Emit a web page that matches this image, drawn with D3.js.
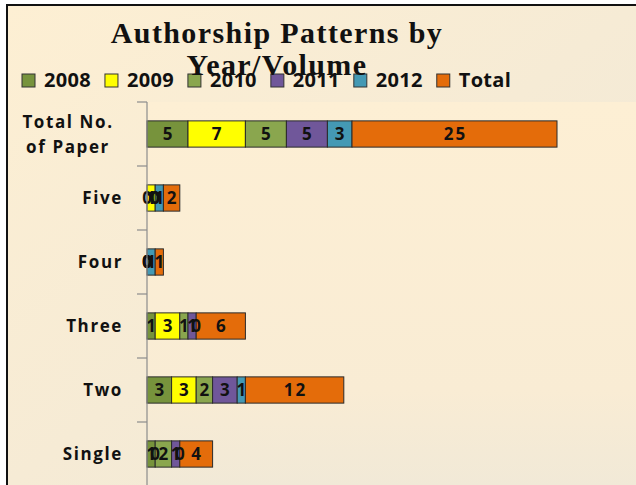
<!DOCTYPE html>
<html><head><meta charset="utf-8">
<script src="https://cdn.jsdelivr.net/npm/d3@7"></script>
<style>
html,body{margin:0;padding:0;background:#fff;}
svg{display:block;}
</style></head>
<body>
<script>
const categories = ["Total No. of Paper", "Five", "Four", "Three", "Two", "Single"];
const categoryLines = [["Total No.", "of Paper"], ["Five"], ["Four"], ["Three"], ["Two"], ["Single"]];
const seriesNames = ["2008", "2009", "2010", "2011", "2012", "Total"];
const v2008  = [5, 0, 0, 1, 3, 1];
const v2009  = [7, 1, 0, 3, 3, 0];
const v2010  = [5, 0, 0, 1, 2, 2];
const v2011  = [5, 0, 0, 1, 3, 1];
const v2012  = [3, 1, 1, 0, 1, 0];
const vTotal = [25, 2, 1, 6, 12, 4];
const seriesValues = [v2008, v2009, v2010, v2011, v2012, vTotal];
const colors = ["#77933c", "#ffff00", "#8aa64e", "#70579a", "#4499b4", "#e46c0a"];
const xMax = 60;
const titleLines = ["Authorship Patterns by", "Year/Volume"];

const W = 636, H = 485;
const svg = d3.select("body").append("svg").attr("width", W).attr("height", H);
const defs = svg.append("defs");
const g1 = defs.append("linearGradient").attr("id","bg").attr("x1","0").attr("y1","0").attr("x2","1").attr("y2","1");
g1.append("stop").attr("offset","0").attr("stop-color","#fdefd3");
g1.append("stop").attr("offset","0.5").attr("stop-color","#f6ebd5");
g1.append("stop").attr("offset","1").attr("stop-color","#efe8d8");
const g2 = defs.append("linearGradient").attr("id","pbg").attr("x1","0").attr("y1","0").attr("x2","0").attr("y2","1");
g2.append("stop").attr("offset","0").attr("stop-color","#fdefd4");
g2.append("stop").attr("offset","0.75").attr("stop-color","#f9ecd4");
g2.append("stop").attr("offset","1").attr("stop-color","#f1e9d7");

svg.append("rect").attr("x",0).attr("y",0).attr("width",W).attr("height",H).attr("fill","#fff");
svg.append("rect").attr("x",7).attr("y",5).attr("width",W-7).attr("height",H-5).attr("fill","url(#bg)");

const axisX = 147, plotTop = 102, plotBottom = 486;
const x = d3.scaleLinear().domain([0, xMax]).range([axisX, axisX + 492]);
const y = d3.scaleBand().domain(categories).range([plotTop, plotBottom]).paddingInner(0.59).paddingOuter(0.295);

svg.append("rect").attr("x",axisX).attr("y",plotTop).attr("width",W-axisX).attr("height",plotBottom-plotTop).attr("fill","url(#pbg)");

// stacked data
const rows = categories.map((c, i) => {
  const r = {cat: c};
  seriesNames.forEach((s, j) => r[s] = seriesValues[j][i]);
  return r;
});
const stack = d3.stack().keys(seriesNames)(rows);

const bars = svg.append("g");
stack.forEach((layer, j) => {
  layer.forEach(d => {
    bars.append("rect")
      .attr("x", x(d[0]))
      .attr("y", y(d.data.cat))
      .attr("width", x(d[1]) - x(d[0]))
      .attr("height", y.bandwidth())
      .attr("fill", colors[j])
      .attr("stroke", d[1] > d[0] ? "#2a2a2a" : "none")
      .attr("stroke-width", 1);
  });
});
stack.forEach((layer, j) => {
  layer.forEach(d => {
    bars.append("text")
      .attr("x", (x(d[0]) + x(d[1])) / 2 + 1)
      .attr("y", y(d.data.cat) + y.bandwidth() / 2 + 6)
      .attr("text-anchor", "middle")
      .attr("font-family", "Open Sans")
      .attr("font-weight", "bold")
      .attr("font-size", "17px")
      .attr("letter-spacing", "2px")
      .attr("fill", "#111")
      .text(d[1] - d[0]);
  });
});

// axis line and ticks
const axisG = svg.append("g");
axisG.append("line").attr("x1",axisX).attr("x2",axisX).attr("y1",plotTop).attr("y2",plotBottom).attr("stroke","#8c8c8c").attr("stroke-width",1.2);
const bounds = categories.map(c => y(c) - y.step() * y.paddingInner() / 2);
bounds.push(plotBottom);
bounds.forEach(b => {
  axisG.append("line").attr("x1",axisX-10).attr("x2",axisX).attr("y1",b).attr("y2",b).attr("stroke","#8c8c8c").attr("stroke-width",1.2);
});

// category labels
categoryLines.forEach((lines, i) => {
  const cy = y(categories[i]) + y.bandwidth() / 2;
  const t = svg.append("text")
    .attr("font-family", "Open Sans").attr("font-weight", "bold")
    .attr("font-size", "17px").attr("letter-spacing", "1.6px").attr("fill", "#111");
  if (lines.length === 1) {
    t.attr("text-anchor", "end").attr("x", axisX - 24).attr("y", cy + 6).text(lines[0]);
  } else {
    lines.forEach((l, k) => {
      t.append("tspan").attr("text-anchor", "middle").attr("x", 68)
        .attr("y", cy + 6 + (k - (lines.length - 1) / 2) * 25).text(l);
    });
  }
});

// legend
const leg = svg.append("g");
let lx = 22;
seriesNames.forEach((s, j) => {
  leg.append("rect").attr("x", lx).attr("y", 74).attr("width", 13).attr("height", 13)
    .attr("fill", colors[j]).attr("stroke", "#333").attr("stroke-width", 1);
  const t = leg.append("text").attr("x", lx + 22).attr("y", 87)
    .attr("font-family", "Open Sans").attr("font-weight", "bold").attr("font-size", "20px")
    .attr("letter-spacing", "0.3px").attr("fill", "#111").text(s);
  const w = t.node().getComputedTextLength();
  lx += 22 + w + 14;
});

// title
titleLines.forEach((l, k) => {
  svg.append("text").attr("x", 277).attr("y", 43 + k * 32).attr("text-anchor", "middle")
    .attr("font-family", "Liberation Serif").attr("font-weight", "bold").attr("font-size", "30px")
    .attr("letter-spacing", "1.4px").attr("fill", "#111").text(l);
});

// border
svg.append("line").attr("x1",7).attr("x2",7).attr("y1",4).attr("y2",H).attr("stroke","#111").attr("stroke-width",2);
svg.append("line").attr("x1",6).attr("x2",W).attr("y1",5).attr("y2",5).attr("stroke","#111").attr("stroke-width",2);
</script>
</body></html>
